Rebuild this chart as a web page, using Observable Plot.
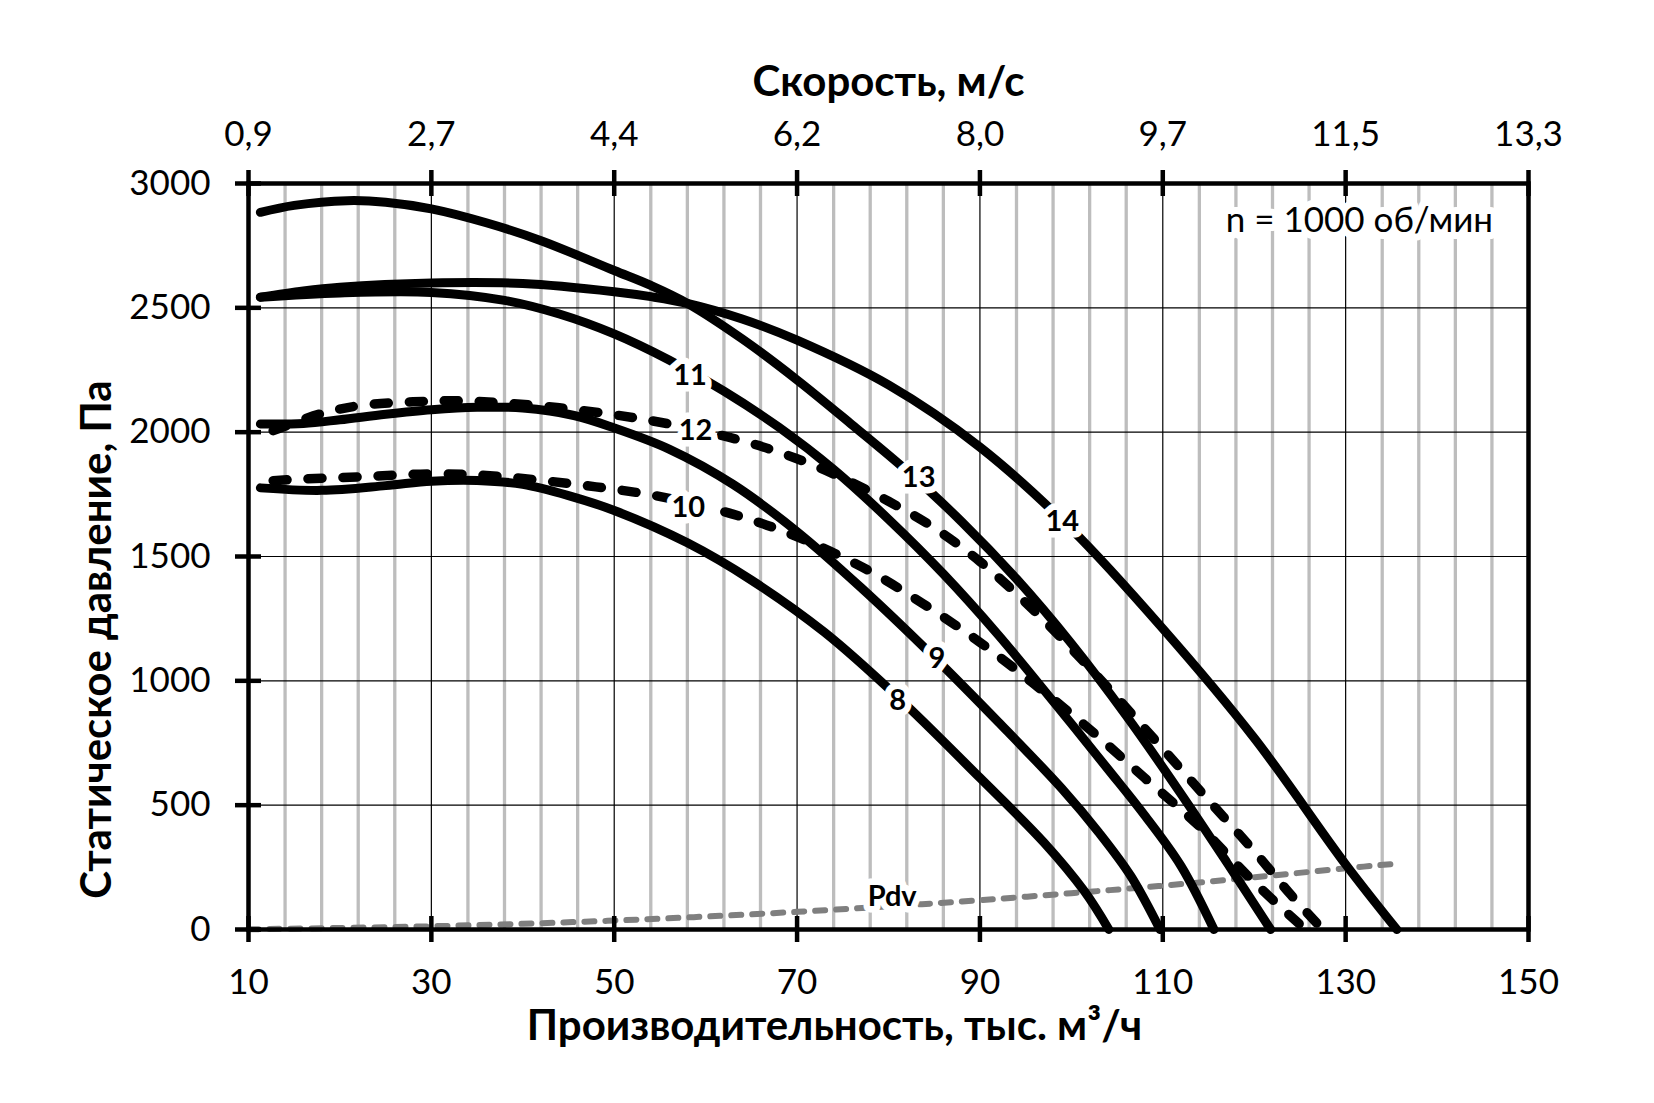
<!DOCTYPE html>
<html>
<head>
<meta charset="utf-8">
<script src="https://cdn.jsdelivr.net/npm/d3@7"></script>
<script src="https://cdn.jsdelivr.net/npm/@observablehq/plot@0.6"></script>
<style>
  html, body { margin: 0; padding: 0; background: #fff; }
  #chart { width: 1654px; height: 1103px; }
</style>
</head>
<body>
<div id="chart"></div>
<script>
// ---- axis ticks / labels ----
const flowTicks = [10, 30, 50, 70, 90, 110, 130, 150];
const speedLabels = ["0,9", "2,7", "4,4", "6,2", "8,0", "9,7", "11,5", "13,3"];
const pressureTicks = [0, 500, 1000, 1500, 2000, 2500, 3000];
const minorFlow = [14, 18, 22, 26, 34, 38, 42, 46, 54, 58, 62, 66, 74, 78, 82, 86, 94, 98, 102, 106, 114, 118, 122, 126, 134, 138, 142, 146];
const majorFlowGrid = [30, 50, 70, 90, 110, 130];
const pressureGrid = [500, 1000, 1500, 2000, 2500];

// ---- fan curves (flow, thousand m3/h ; static pressure, Pa) ----
const q8  = [11.3, 18, 25, 30, 35, 40, 45, 50, 58, 65, 73, 81, 90, 97, 101.4, 104.1];
const p8  = [1776, 1766, 1785, 1803, 1806, 1790, 1745, 1685, 1555, 1405, 1195, 935, 610, 350, 155, 0];

const q9  = [11.3, 16, 20, 25, 30, 35, 40, 45.6, 50, 56, 63, 70, 77, 85, 92, 99, 103, 106.5, 109.7];
const p9  = [2033, 2035, 2050, 2072, 2090, 2100, 2097, 2067, 2017, 1932, 1790, 1600, 1375, 1095, 835, 565, 390, 215, 0];

const q10 = [12.7, 16, 22, 30, 36, 42, 48, 54, 60, 66, 72, 78, 84, 90, 96, 102, 108, 114, 120, 125.6];
const p10 = [1805, 1812, 1820, 1832, 1826, 1806, 1780, 1748, 1700, 1635, 1548, 1440, 1305, 1155, 985, 805, 610, 415, 190, 0];

const q11 = [11.3, 20, 30, 38, 44, 50, 56, 62, 68, 74, 80, 86, 92, 98, 104, 108, 112, 115.6];
const p11 = [2543, 2560, 2562, 2530, 2475, 2395, 2290, 2165, 2020, 1850, 1650, 1430, 1185, 918, 645, 460, 255, 0];

const q12 = [12.7, 17.8, 22.2, 28, 33, 38, 44, 50, 55, 60, 65, 70, 75, 80, 85, 90, 95, 100, 105, 110, 115, 120, 124, 127.5];
const p12 = [2006, 2073, 2107, 2122, 2126, 2117, 2098, 2070, 2040, 2002, 1955, 1893, 1815, 1722, 1615, 1480, 1315, 1130, 932, 727, 520, 315, 140, 0];

const q13 = [11.3, 15, 20.8, 25, 30, 36, 42, 50, 54, 58, 64, 70, 76, 82, 88, 94, 100, 106, 112, 117, 121.8];
const p13 = [2884, 2912, 2931, 2925, 2898, 2842, 2770, 2650, 2590, 2518, 2375, 2210, 2030, 1845, 1640, 1410, 1150, 860, 545, 270, 0];

const q14 = [11.3, 16, 20, 30, 40, 50, 54, 58, 64, 70, 80, 90, 100, 110, 120, 130, 135.6];
const p14 = [2543, 2568, 2583, 2600, 2598, 2565, 2545, 2518, 2455, 2370, 2190, 1940, 1610, 1210, 770, 262, 0];

// dynamic pressure line
const qPdv = [10, 20, 30, 40, 50, 60, 70, 80, 90, 100, 110, 120, 130, 135.6];
const pPdv = [1, 6, 13, 23, 36, 52, 71, 93, 118, 146, 176, 210, 246, 265];

// curve labels
const labelText = ["8", "9", "10", "11", "12", "13", "14", "Pdv"];
const labelQ    = [81.0, 85.3, 58.1, 58.3, 58.9, 83.3, 99.0, 80.4];
const labelP    = [921, 1090, 1697, 2228, 2006, 1815, 1638, 130];

const noteText = "n = 1000 об/мин";
const noteQ = 131.5, noteP = 2851;

const xTitle = "Производительность, тыс. м³/ч";
const x2Title = "Скорость, м/с";
const yTitle = "Статическое давление, Па";

// ---- build tables ----
const rows = (name, q, p) => q.map((v, i) => ({name, q: v, p: p[i]}));
const solidRows = [...rows("8", q8, p8), ...rows("9", q9, p9), ...rows("11", q11, p11), ...rows("13", q13, p13), ...rows("14", q14, p14)];
const dashedRows = [...rows("10", q10, p10), ...rows("12", q12, p12)];
const pdvRows = rows("Pdv", qPdv, pPdv);
const labelRows = labelText.map((t, i) => ({t, q: labelQ[i], p: labelP[i]}));

const W = 1654, H = 1103, mL = 248, mR = 126, mT = 183, mB = 174;
const plotW = W - mL - mR, plotH = H - mT - mB;
const FONT = "Lato, 'Open Sans', 'DejaVu Sans', sans-serif";

const chart = Plot.plot({
  width: W, height: H,
  marginLeft: mL, marginRight: mR, marginTop: mT, marginBottom: mB,
  style: {fontFamily: FONT, fontSize: "35px", color: "black", background: "white", overflow: "visible"},
  x: {domain: [10, 150], label: null},
  y: {domain: [0, 3000], label: null},
  marks: [
    Plot.ruleX(minorFlow, {x: d => d, stroke: "#bdbdbd", strokeWidth: 3.3}),
    Plot.ruleX(majorFlowGrid, {x: d => d, stroke: "black", strokeWidth: 1.2}),
    Plot.ruleY(pressureGrid, {y: d => d, stroke: "black", strokeWidth: 1.2}),
    Plot.line(pdvRows, {x: "q", y: "p", stroke: "#7f7f7f", strokeWidth: 6, strokeDasharray: "10,11", strokeLinecap: "round", curve: "catmull-rom"}),
    Plot.line(solidRows, {x: "q", y: "p", z: "name", stroke: "black", strokeWidth: 9, curve: "catmull-rom", strokeLinecap: "round"}),
    Plot.line(dashedRows, {x: "q", y: "p", z: "name", stroke: "black", strokeWidth: 9.5, strokeDasharray: "14,21", strokeLinecap: "round", curve: "catmull-rom"}),
    Plot.text(labelRows, {x: "q", y: "p", text: "t", fontWeight: "bold", fontSize: 29, fill: "black", stroke: "white", strokeWidth: 13}),
    Plot.text([noteText], {x: () => noteQ, y: () => noteP, text: d => d, fontSize: 35, fill: "black", stroke: "white", strokeWidth: 14}),
    Plot.frame({stroke: "black", strokeWidth: 4.5}),
    Plot.tickX(flowTicks, {x: d => d, stroke: "black", strokeWidth: 4.5, insetTop: plotH - 26, dy: 13}),
    Plot.tickX(flowTicks, {x: d => d, stroke: "black", strokeWidth: 4.5, insetBottom: plotH - 26, dy: -13}),
    Plot.tickY(pressureTicks, {y: d => d, stroke: "black", strokeWidth: 4.5, insetRight: plotW - 26, dx: -13}),
    Plot.axisX(flowTicks, {anchor: "bottom", tickSize: 0, tickPadding: 40, label: null, fontSize: 35, tickFormat: d => String(d)}),
    Plot.axisX(flowTicks, {anchor: "top", tickSize: 0, tickPadding: 38, label: null, fontSize: 35, tickFormat: d => speedLabels[flowTicks.indexOf(d)]}),
    Plot.axisY(pressureTicks, {anchor: "left", tickSize: 0, tickPadding: 38, label: null, fontSize: 35, tickFormat: d => String(d)}),
    Plot.text([xTitle], {frameAnchor: "bottom", dy: 97, dx: -54, text: d => d, fontWeight: "bold", fontSize: 42, lineAnchor: "middle", textAnchor: "middle"}),
    Plot.text([x2Title], {frameAnchor: "top", dy: -101, text: d => d, fontWeight: "bold", fontSize: 42, lineAnchor: "middle", textAnchor: "middle"}),
    Plot.text([yTitle], {frameAnchor: "left", dx: -151, dy: 83, rotate: -90, text: d => d, fontWeight: "bold", fontSize: 42, lineAnchor: "middle", textAnchor: "middle"})
  ]
});
document.getElementById("chart").appendChild(chart);
</script>
</body>
</html>
